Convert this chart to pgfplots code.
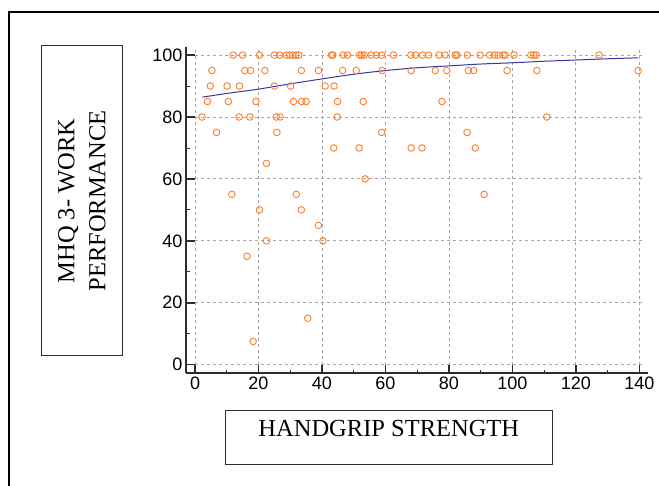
\documentclass[border=0pt]{standalone}
\usepackage{pgfplots}
\pgfplotsset{compat=1.18}
\usepackage{fontspec}
\setmainfont{Liberation Serif}
\newfontfamily\arial{Liberation Sans}
\definecolor{dotorange}{RGB}{255,125,40}
\definecolor{fitblue}{RGB}{55,55,160}
\definecolor{axisdark}{RGB}{45,45,45}
\definecolor{gridgray}{RGB}{165,165,165}

\pgfplotstableread{
x y
12.0 100
15.0 100
20.3 100
25.0 100
26.7 100
28.8 100
29.8 100
30.8 100
31.8 100
32.7 100
43.0 100
43.4 100
46.7 100
48.0 100
51.8 100
52.5 100
53.3 100
55.5 100
57.1 100
58.8 100
62.5 100
68.0 100
69.5 100
71.7 100
73.6 100
76.9 100
78.8 100
82.0 100
82.5 100
85.8 100
89.8 100
92.8 100
94.4 100
95.5 100
97.0 100
97.7 100
100.5 100
105.8 100
106.7 100
107.5 100
127.3 100
5.3 95
15.7 95
17.5 95
22.0 95
33.5 95
38.9 95
46.5 95
50.8 95
59.0 95
68.1 95
75.7 95
79.3 95
86.1 95
87.8 95
98.3 95
107.7 95
139.6 95
4.8 90
10.1 90
14.0 90
25.0 90
30.1 90
41.0 90
43.8 90
3.9 85
10.5 85
19.2 85
31.0 85
33.6 85
35.0 85
44.9 85
53.0 85
77.8 85
2.2 80
13.9 80
17.3 80
25.6 80
26.8 80
44.8 80
110.8 80
6.8 75
25.8 75
58.8 75
85.7 75
43.7 70
51.7 70
68.1 70
71.5 70
88.3 70
22.5 65
53.6 60
11.6 55
31.9 55
91.1 55
20.3 50
33.5 50
38.9 45
22.5 40
40.3 40
16.4 35
35.5 15
18.3 7.5
}\scatterdata

\pgfplotstableread{
x y
2.3 86.4
10 87.6
20 89.0
30 90.7
40 92.3
50 93.8
60 95.0
70 95.9
80 96.5
90 97.1
100 97.5
110 98.0
120 98.4
130 98.8
139.5 99.1
}\fitdata

\begin{document}
\begin{tikzpicture}[x=1pt,y=1pt]
\useasboundingbox (0,0) rectangle (659,486);
% outer frame
\draw[line width=2pt,black] (9,0) -- (9,474) -- (659,474);
% y label box
\draw[line width=1pt,axisdark] (41.7,130) rectangle (122.3,440);
\node[rotate=90,align=center,font=\fontsize{24.5}{31}\selectfont,inner sep=0pt] at (81.8,285) {MHQ 3- WORK\\PERFORMANCE};
% x label box
\draw[line width=1pt,axisdark] (225.5,21.3) rectangle (552,75.3);
\node[anchor=base,font=\fontsize{24.5}{31}\selectfont,inner sep=0pt] at (388.8,49) {HANDGRIP STRENGTH};

\begin{axis}[
  at={(186pt,112.7pt)}, anchor=south west,
  scale only axis, width=462.3pt, height=326.6pt,
  xmin=-2.84, xmax=142.8, ymin=-2.78, ymax=102.7,
  axis lines*=left,
  axis line style={line width=2pt,axisdark},
  xtick={0,20,...,140}, ytick={0,20,...,100},
  minor xtick={10,30,...,130}, minor ytick={10,30,...,90},
  tick align=inside,
  major tick length=8.6pt, minor tick length=3.5pt,
  every tick/.style={axisdark},
  major tick style={line width=1.6pt},
  minor tick style={line width=0.8pt},
  /pgf/number format/assume math mode=true,
  ticklabel style={font=\arial\fontsize{18}{18}\selectfont},
  clip=false,
]
\pgfplotsinvokeforeach{0,20,...,140}{
  \draw[gridgray,line width=0.9pt,dash pattern=on 3pt off 3pt] (axis cs:#1,0) -- (axis cs:#1,101.6);
}
\pgfplotsinvokeforeach{0,20,...,100}{
  \draw[gridgray,line width=0.9pt,dash pattern=on 3pt off 3pt] (axis cs:0,#1) -- (axis cs:141.6,#1);
}
\addplot[only marks, mark=o, mark size=3.3pt, dotorange, line width=0.9pt] table {\scatterdata};
\addplot[fitblue, line width=1pt, smooth] table {\fitdata};
\end{axis}
\end{tikzpicture}
\end{document}
